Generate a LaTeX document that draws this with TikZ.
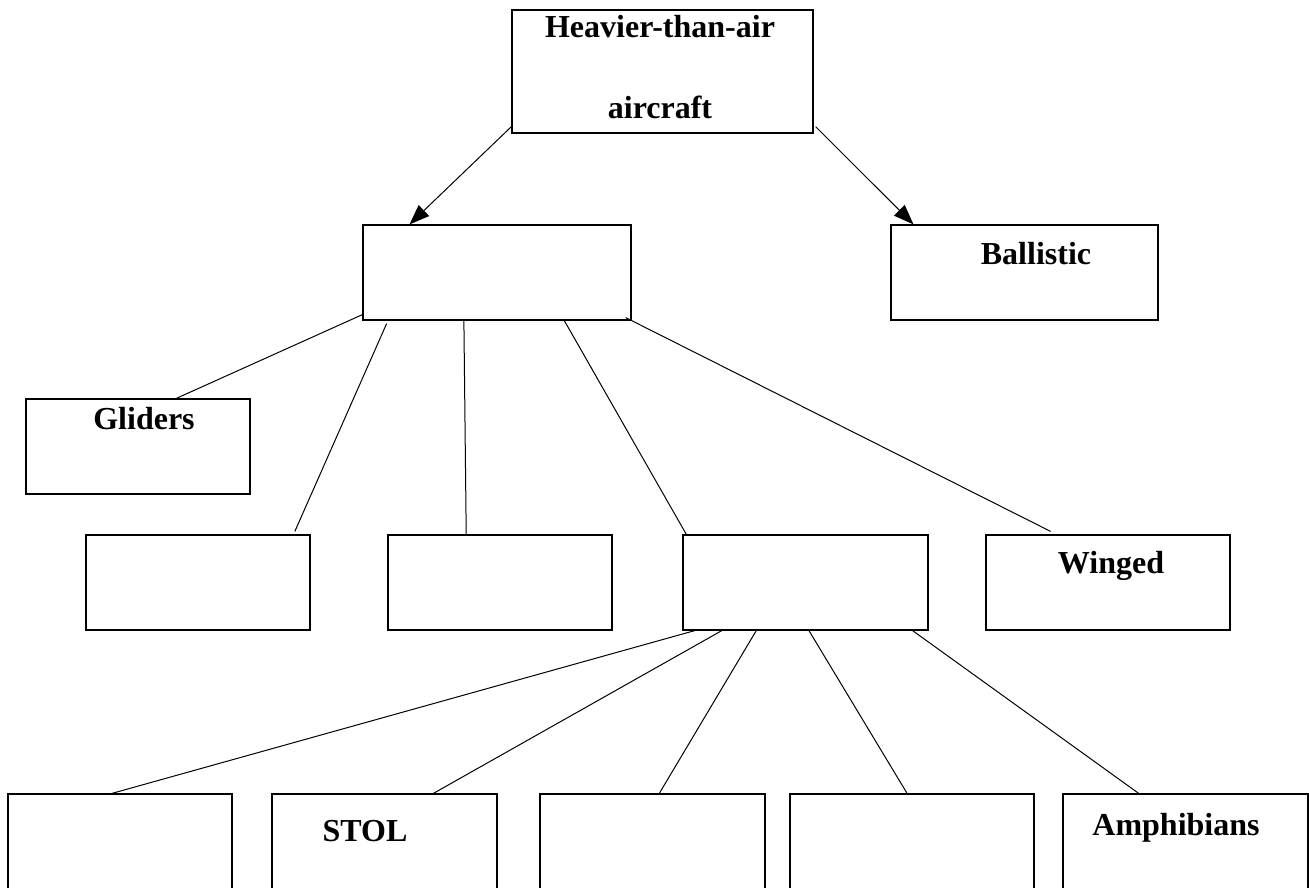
\documentclass[tikz,border=0pt]{standalone}
\usepackage{fontspec}
\setmainfont{Liberation Serif}
\usetikzlibrary{arrows.meta,calc}

\tikzset{
  box/.style={draw, line width=1.2pt, minimum width=#1, minimum height=95pt, inner sep=0pt},
  lbl/.style={anchor=base, font=\fontsize{32}{38}\selectfont\bfseries, inner sep=0pt},
  link/.style={line width=1pt},
  arr/.style={link, -{Triangle[length=20pt,width=15pt]}}
}

\begin{document}
\begin{tikzpicture}[x=1pt, y=-1pt]
        \clip (0,0) rectangle (1309,887);

        % the boxes
        \node[box=301pt, minimum height=123pt] (hta) at (662.5,71.5)  {};
        \node[box=268pt] (mid)      at (497,272.5)   {};
        \node[box=267pt] (ballist)  at (1024.5,272.5){};
        \node[box=224pt] (glider)   at (138,446.5)   {};
        \node[box=224pt] (boxa)     at (198,582.5)   {};
        \node[box=224pt] (boxb)     at (500,582.5)   {};
        \node[box=245pt] (boxc)     at (805.5,582.5) {};
        \node[box=244pt] (winged)   at (1108,582.5)  {};
        \node[box=224pt] (bot1)     at (120,841.5)   {};
        \node[box=225pt] (stol)     at (384.5,841.5) {};
        \node[box=225pt] (bot3)     at (652.5,841.5) {};
        \node[box=244pt] (bot4)     at (912,841.5)   {};
        \node[box=245pt] (amphib)   at (1185.5,841.5){};

        % the labels
        \node[lbl] (thta)  at (660,37)   {Heavier-than-air};
        \node[lbl] (thtb)  at (660,118)  {aircraft};
        \node[lbl] (tbal)  at (1036,264) {Ballistic};
        \node[lbl] (tgli)  at (144,429)  {Gliders};
        \node[lbl] (twin)  at (1111,573) {Winged};
        \node[lbl] (tstol) at (365,841)  {STOL};
        \node[lbl] (tamph) at (1176,835) {Amphibians};

        % arrows from the top
        \draw[arr] ($(hta.south west)+(0,-7)$)
              -- ($(mid.north west)!0.175!(mid.north east)$);
        \draw[arr] ($(hta.south east)+(2,-7)$)
              -- ($(ballist.north west)!0.086!(ballist.north east)$);

        % second level
        \draw[link] ($(mid.south west)+(0,-6)$)
              -- ($(glider.north west)!0.67!(glider.north east)$);
        \draw[link] ($(mid.south west)!0.09!(mid.south east)+(0,3)$)
              -- ($(boxa.north west)!0.93!(boxa.north east)+(0,-3)$);
        \draw[link] ($(mid.south west)!0.377!(mid.south east)$)
              -- ($(boxb.north west)!0.35!(boxb.north east)$);
        \draw[link] ($(mid.south west)!0.75!(mid.south east)$)
              -- ($(boxc.north west)!0.016!(boxc.north east)$);
        \draw[link] ($(mid.south west)!0.978!(mid.south east)+(0,-3)$)
              -- ($(winged.north west)!0.266!(winged.north east)+(0,-3)$);

        % third level
        \draw[link] ($(boxc.south west)!0.05!(boxc.south east)$)
              -- ($(bot1.north west)!0.464!(bot1.north east)$);
        \draw[link] ($(boxc.south west)!0.16!(boxc.south east)$)
              -- ($(stol.north west)!0.716!(stol.north east)$);
        \draw[link] ($(boxc.south west)!0.30!(boxc.south east)$)
              -- ($(bot3.north west)!0.53!(bot3.north east)$);
        \draw[link] ($(boxc.south west)!0.514!(boxc.south east)$)
              -- ($(bot4.north west)!0.48!(bot4.north east)$);
        \draw[link] ($(boxc.south west)!0.935!(boxc.south east)$)
              -- ($(amphib.north west)!0.31!(amphib.north east)$);
\end{tikzpicture}
\end{document}
